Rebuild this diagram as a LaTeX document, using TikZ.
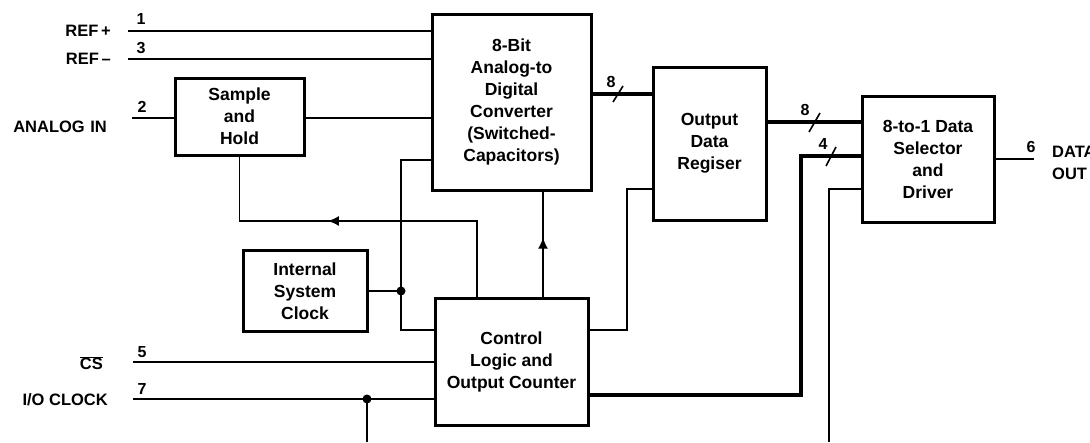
\documentclass[tikz,border=0pt]{standalone}
\usepackage{fontspec}
\setmainfont{Liberation Sans}
\usetikzlibrary{arrows.meta,decorations.markings}
\begin{document}
\begin{tikzpicture}[x=1pt,y=-1pt,
  blk/.style={draw, line width=3pt, align=center, inner sep=0pt,
    font=\fontsize{17.5}{22}\selectfont\bfseries},
  wire/.style={line width=1.4pt},
  bus/.style={line width=4.2pt},
  slashln/.style={line width=1.6pt},
  pin/.style={font=\fontsize{16}{16}\selectfont\bfseries, inner sep=0pt},
  lbl/.style={font=\fontsize{16.5}{22}\selectfont\bfseries, inner sep=0pt, align=left},
  jdot/.style={circle, fill, inner sep=0pt, minimum size=9pt},
  arrowmid/.style={postaction={decorate}, decoration={markings,
    mark=at position #1 with {\arrow{Latex[length=11pt,width=10pt]}}}}]
\useasboundingbox[fill=white] (0,0) rectangle (1090,442);

% blocks
\node[blk, minimum width=129pt, minimum height=77pt] (sh) at (239.5,116.5) {Sample\\and\\Hold};
\node[blk, minimum width=159pt, minimum height=176pt] (adc) at (511.5,102) {8-Bit\\Analog-to\\Digital\\Converter\\(Switched-\\Capacitors)};
\node[blk, minimum width=113pt, minimum height=153pt] (reg) at (709.5,143.5) {Output\\Data\\Regiser};
\node[blk, minimum width=132pt, minimum height=126pt] (sel) at (928,159) {8-to-1 Data\\Selector\\and\\Driver};
\node[blk, minimum width=124pt, minimum height=81pt] (clk) at (305,291) {Internal\\System\\Clock};
\node[blk, minimum width=153pt, minimum height=127pt] (ctl) at (511.5,361.5) {Control\\Logic and\\Output Counter};

% junction dots
\node[jdot] (j1) at (401,291) {};
\node[jdot] (j2) at (367,399) {};

% pin ends and corners
\coordinate (p1) at (128,31);
\coordinate (p3) at (128,59);
\coordinate (p2) at (132,118);
\coordinate (p5) at (133,362);
\coordinate (p7) at (133,399);
\coordinate (p6) at (1034,159);
\coordinate (jt) at (401,160);
\coordinate (fb) at (300,221);
\coordinate (cr) at (627,189);
\coordinate (b4) at (801,156);
\coordinate (b8) at (700,122);
\coordinate (a8) at (600,94);
\coordinate (bot1) at (367,442);
\coordinate (bot2) at (829,442);
\coordinate (cs1) at (829,189);

% pin labels
\node[pin] (n1) at (141,19) {1};
\node[pin] (n3) at (141,48) {3};
\node[pin] (n2) at (142,107) {2};
\node[pin] (n5) at (142,352) {5};
\node[pin] (n7) at (142,389) {7};
\node[pin] (n6) at (1031,147) {6};
\node[lbl, anchor=east] (trefp) at (111,31) {REF\,+};
\node[lbl, anchor=east] (trefm) at (111,59) {REF\,–};
\node[lbl, anchor=east] (tain) at (107,127) {ANALOG\,\,IN};
\node[lbl, anchor=east] (tcs) at (103,363) {$\overline{\hbox{\fontsize{16.5}{22}\selectfont\bfseries CS}}$};
\node[lbl, anchor=east] (tio) at (108,400) {I/O CLOCK};
\node[lbl, anchor=west] (tout) at (1052,163) {DATA\\OUT};

% input wires
\draw[wire] (p1) -- (p1 -| adc.west);
\draw[wire] (p3) -- (p3 -| adc.west);
\draw[wire] (p2) -- (p2 -| sh.west);
\draw[wire] (sh.east |- p2) -- (p2 -| adc.west);
\draw[wire] (p5) -- (p5 -| ctl.west);
\draw[wire] (p7) -- (p7 -| ctl.west);
\draw[wire] (j2.center) -- (bot1);

% clock net
\draw[wire] (jt -| adc.west) -- (jt) -- (j1.center) |- ([yshift=31.5pt]ctl.west);
\draw[wire] (clk.east) -- (j1.center);

% feedback to sample and hold
\draw[wire, arrowmid=0.595] ([xshift=-34.5pt]ctl.north) |- (fb) -| (sh.south);
% control to ADC
\draw[wire, arrowmid=0.56] ([xshift=31.5pt]ctl.north) -- ([xshift=31.5pt]adc.south);

% ADC to register (8-bit bus)
\draw[bus] (a8 -| adc.east) -- (a8 -| reg.west);
\draw[slashln] (613,102) -- (623,86);
\node[pin] (n8a) at (611,82) {8};

% control to register
\draw[wire] ([yshift=31.5pt]ctl.east) -| (cr) -- (cr -| reg.west);

% register to selector (8-bit bus)
\draw[bus] (b8 -| reg.east) -- (b8 -| sel.west);
\draw[slashln] (809,132) -- (820,113);
\node[pin] (n8b) at (805,110) {8};

% control to selector (4-bit bus)
\draw[bus] ([yshift=-33.5pt]ctl.east) -| (b4) -- (b4 -| sel.west);
\draw[slashln] (826,166) -- (836,147);
\node[pin] (n4) at (823,144) {4};

% external line into selector
\draw[wire] (bot2) -- (cs1) -- (cs1 -| sel.west);

% output
\draw[wire] (sel.east) -- (p6);
\end{tikzpicture}
\end{document}
